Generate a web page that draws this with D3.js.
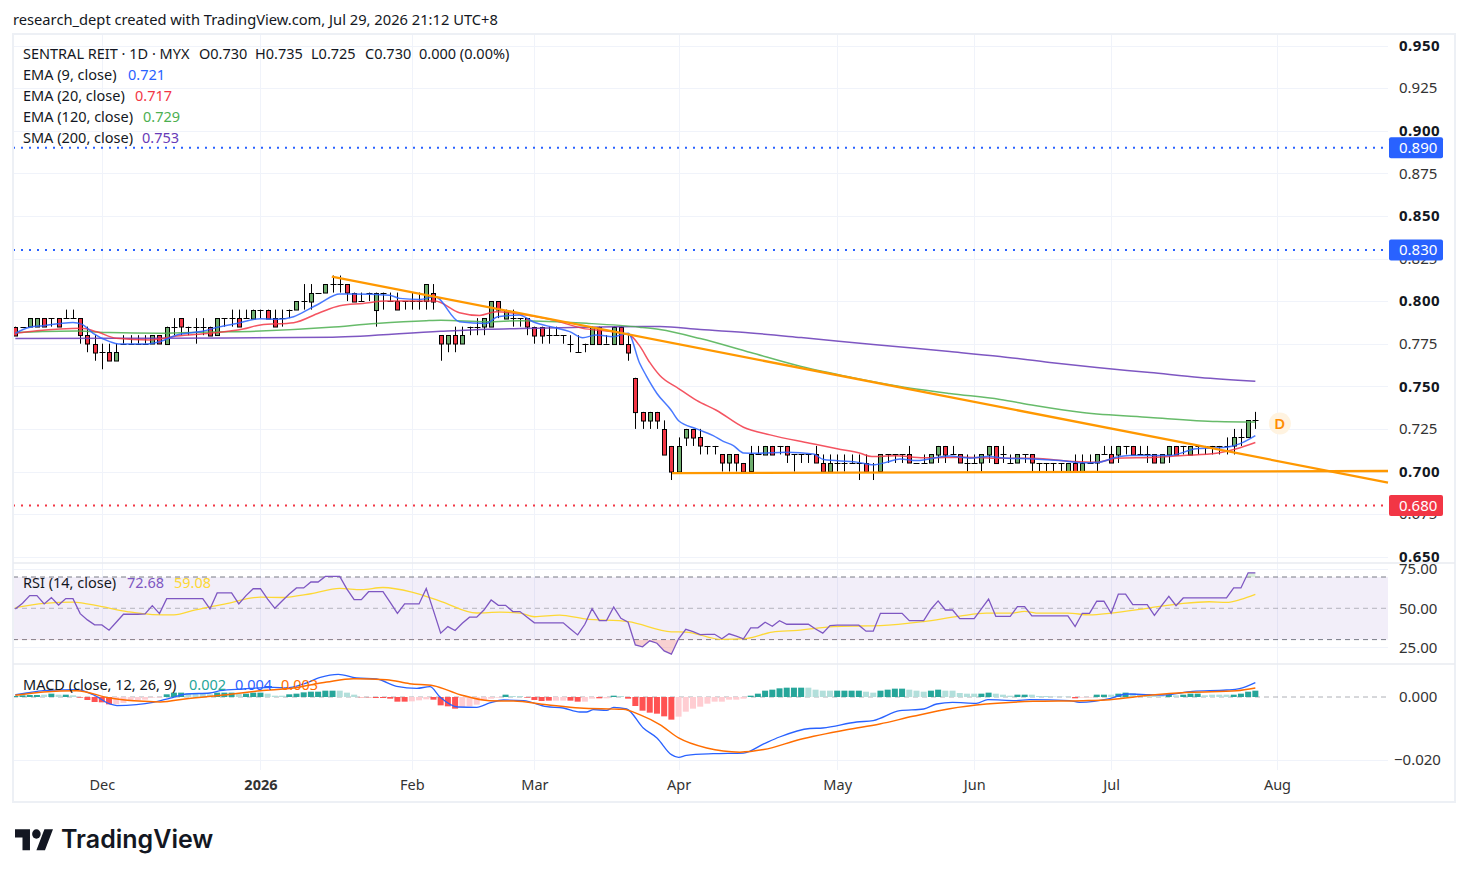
<!DOCTYPE html>
<html>
<head>
<meta charset="utf-8">
<script src="https://cdn.jsdelivr.net/npm/d3@7"></script>
<style>
  html, body { margin: 0; background: #fff; }
  svg { display: block; }
  text { font-family: "Noto Sans", sans-serif; }
</style>
</head>
<body>
<svg id="chart"></svg>
<script>
// candles, one per trading day
const opens = [
  .785,.785,.785,.785,.79,.79,.79,.79,.79,.79,
  .78,.775,.77,.77,.765,.775,.775,.775,.775,.775,
  .78,.775,.785,.79,.785,.785,.785,.785,.78,.79,
  .79,.79,.79,.79,.795,.795,.79,.79,.795,.795,
  .80,.80,.805,.805,.81,.81,.81,.805,.80,.805,
  .795,.805,.80,.80,.80,.80,.80,.80,.805,.78,
  .775,.78,.775,.785,.785,.785,.785,.80,.79,.79,
  .79,.79,.785,.785,.78,.78,.78,.775,.77,.775,
  .775,.785,.775,.775,.785,.775,.755,.735,.73,.735,
  .725,.715,.70,.72,.725,.72,.715,.715,.71,.705,
  .71,.705,.70,.71,.71,.715,.715,.715,.71,.71,
  .71,.71,.705,.70,.705,.705,.705,.705,.705,.70,
  .70,.71,.71,.71,.71,.705,.705,.705,.71,.715,
  .71,.71,.705,.705,.705,.71,.715,.71,.705,.705,
  .71,.71,.705,.705,.705,.705,.70,.705,.70,.705,
  .705,.71,.71,.71,.715,.715,.71,.71,.71,.705,
  .71,.715,.715,.71,.715,.715,.715,.715,.715,.715,
  .72,.72,.73];
const highs = [
  .785,.785,.79,.79,.79,.79,.79,.795,.795,.79,
  .785,.78,.775,.775,.775,.78,.78,.78,.78,.78,
  .78,.785,.79,.79,.785,.79,.79,.785,.79,.79,
  .795,.795,.795,.795,.795,.795,.795,.795,.795,.80,
  .81,.81,.805,.81,.815,.815,.81,.805,.805,.805,
  .805,.805,.805,.805,.80,.805,.805,.81,.81,.78,
  .78,.785,.785,.785,.79,.79,.80,.80,.795,.795,
  .79,.79,.785,.785,.785,.785,.78,.78,.78,.775,
  .785,.785,.78,.785,.785,.78,.755,.735,.735,.735,
  .73,.715,.72,.725,.725,.725,.715,.715,.71,.71,
  .71,.705,.715,.715,.715,.715,.715,.715,.71,.71,
  .71,.715,.71,.71,.71,.71,.71,.71,.71,.705,
  .71,.71,.71,.71,.715,.705,.71,.71,.715,.715,
  .715,.71,.71,.71,.71,.715,.715,.715,.71,.71,
  .71,.71,.705,.705,.705,.705,.705,.71,.71,.71,
  .71,.715,.715,.715,.715,.715,.715,.715,.71,.71,
  .715,.715,.715,.715,.715,.715,.715,.715,.72,.725,
  .725,.73,.735];
const lows = [
  .78,.785,.785,.785,.785,.785,.785,.79,.79,.775,
  .77,.765,.76,.765,.765,.775,.775,.775,.775,.775,
  .775,.775,.78,.78,.78,.775,.78,.78,.78,.785,
  .785,.785,.79,.79,.79,.79,.785,.785,.79,.795,
  .795,.795,.805,.805,.805,.805,.80,.80,.80,.80,
  .785,.795,.80,.795,.795,.795,.795,.795,.795,.765,
  .77,.77,.775,.78,.78,.78,.785,.79,.79,.785,
  .785,.78,.775,.775,.775,.78,.775,.77,.77,.77,
  .775,.775,.775,.775,.775,.765,.725,.725,.725,.725,
  .71,.695,.70,.715,.715,.71,.71,.71,.70,.70,
  .70,.70,.70,.71,.71,.71,.71,.705,.70,.705,
  .705,.705,.70,.70,.70,.70,.705,.695,.70,.695,
  .70,.705,.705,.705,.705,.705,.705,.705,.705,.705,
  .71,.705,.70,.705,.70,.705,.705,.705,.705,.705,
  .705,.70,.70,.70,.70,.70,.70,.70,.70,.705,
  .70,.71,.705,.705,.71,.71,.71,.705,.705,.705,
  .705,.71,.71,.71,.71,.71,.71,.71,.71,.71,
  .715,.72,.725];
const closes = [
  .78,.785,.79,.79,.785,.79,.785,.79,.79,.78,
  .775,.77,.77,.765,.77,.775,.775,.775,.775,.78,
  .775,.785,.785,.785,.785,.785,.785,.78,.79,.79,
  .79,.785,.79,.795,.795,.79,.785,.79,.795,.80,
  .80,.805,.805,.81,.81,.81,.805,.80,.80,.805,
  .805,.805,.80,.795,.80,.80,.80,.81,.80,.775,
  .78,.775,.78,.785,.785,.79,.80,.795,.795,.79,
  .79,.785,.78,.78,.78,.78,.78,.775,.77,.775,
  .785,.775,.775,.785,.775,.77,.735,.73,.735,.73,
  .71,.70,.715,.725,.72,.715,.715,.715,.705,.71,
  .705,.70,.71,.71,.715,.71,.715,.71,.71,.71,
  .71,.705,.70,.705,.705,.705,.705,.705,.70,.70,
  .71,.71,.71,.71,.705,.705,.705,.71,.715,.71,
  .71,.705,.705,.705,.71,.715,.705,.71,.705,.71,
  .71,.705,.705,.705,.705,.705,.705,.70,.705,.705,
  .71,.71,.705,.715,.715,.71,.71,.71,.705,.71,
  .715,.71,.715,.715,.715,.715,.715,.715,.715,.72,
  .72,.73,.73];

const ema9Bars = [0,2,3.9,6.2,8,9.2,10.8,13.1,14.3,18,20,22.4,26.1,28,30.7,34,36.3,38.6,40.9,42.2,45,46.8,51.9,53.3,56.1,58.2,61.6,65.3,66.9,69.9,71.8,74.6,76.9,78.7,80.6,82.9,85,86.6,87.5,89,91,92,94.5,96.8,98.2,99.6,101,102.8,107,110.7,112.1,116.7,119,120.9,122.7,125,129.6,132.4,134.9,137.5,141.2,144.9,148.1,150.4,152.7,154.6,160.1,163.8,168,169.8,172];
const ema9 = [.7811,.7846,.7856,.7869,.7875,.7865,.7811,.7762,.7748,.7748,.7762,.7801,.7824,.7846,.7869,.7897,.7893,.7908,.7957,.7986,.8041,.8041,.8035,.8016,.801,.8025,.7879,.7869,.7908,.7918,.7879,.7846,.7821,.7785,.7801,.7791,.7811,.7635,.7563,.7458,.7358,.7298,.725,.7211,.7177,.7152,.7109,.7107,.7113,.7103,.707,.7055,.7039,.7055,.7074,.7064,.7091,.7078,.7088,.7078,.7074,.7064,.7051,.7055,.7084,.7094,.7094,.7133,.7142,.7162,.7211];
const ema20Bars = [0,3,6.2,9.2,11.3,14,18.7,22.4,27,31.6,34,38.6,42.2,45,48.2,51.4,56.1,58.2,61.6,64.4,66.7,70.9,74.6,78.7,82,85.2,86.6,88,89.4,92,94.5,97.3,101,104.7,110.2,114,117.2,118.8,122,126,131.9,136.5,141.2,146.7,150,152.7,158.3,162,166.6,169.4,172];
const ema20 = [.7811,.7826,.7836,.784,.782,.7782,.7772,.7795,.7811,.7836,.786,.7873,.7932,.7973,.7986,.80,.80,.80,.7932,.7916,.7938,.7918,.7889,.784,.7824,.7801,.7737,.764,.7563,.7487,.7417,.7358,.726,.7215,.7166,.7133,.7107,.7088,.7092,.708,.7084,.7078,.7078,.7059,.7055,.7078,.7084,.7094,.7107,.7133,.717];
const ema120Bars = [0,3.8,8.6,13,20,27,34,43.6,50,57,59,65.5,70,79.5,86.6,89.4,95,102,109,116,122.7,129.6,136.6,141.4,148,157.4,166.7,172];
const ema120 = [.7815,.7822,.7824,.7815,.7811,.7818,.7824,.7846,.7869,.7885,.7887,.7879,.7885,.7869,.7847,.7833,.778,.7698,.7616,.7552,.7499,.7458,.7423,.7387,.7346,.7317,.7293,.729];
const sma200Bars = [0,20,44,59,65.5,75,87,89.4,95,102,109,119,129.6,136.6,143.5,150,157.4,164.3,172];
const sma200 = [.778,.7782,.7788,.7823,.7835,.7843,.7851,.7851,.7833,.7813,.7786,.7745,.7704,.7675,.764,.761,.7581,.7552,.753];

// drawn on the chart: falling trendline, base line, alert levels
const trendBars = [43.9, 190.4];
const trendPrices = [.8144, .6935];
const baseBars = [91.1, 190.4];
const basePrices = [.699, .7003];
const levels = [.89, .83, .68];
const levelColors = ['#2962ff', '#2962ff', '#f23645'];

// RSI pane
const rsi = [
  49.6,53.2,58.1,58.1,52.8,56.8,52.1,56.2,56.2,46.6,
  42.6,39.4,39.4,36.0,41.1,46.2,46.2,46.2,46.4,51.7,
  46.6,56.2,56.2,56.2,56.2,56.2,56.2,49.6,59.8,59.8,
  59.8,52.8,58.1,62.5,62.5,55.9,50.0,54.7,59.1,63.0,
  63.0,66.8,66.8,70.4,70.4,70.4,62.3,55.5,55.5,60.6,
  60.6,60.6,53.8,46.8,52.8,52.8,52.8,62.7,48.5,34.1,
  38.3,35.8,40.4,44.3,44.3,48.9,55.3,51.9,51.9,47.9,
  47.9,44.3,40.7,40.7,40.7,40.7,40.7,36.8,33.0,39.8,
  49.8,42.1,42.1,50.8,43.6,41.1,26.6,25.4,29.2,27.7,
  22.8,20.7,30.5,36.6,35.1,33.2,33.4,33.4,30.5,33.7,
  32.2,30.5,37.5,37.5,41.1,38.5,42.1,39.8,39.8,39.8,
  39.8,36.8,34.1,39.0,39.2,39.2,39.2,39.2,35.4,35.4,
  46.8,46.8,46.8,46.8,42.1,42.1,42.1,49.4,54.7,48.9,
  48.9,43.4,43.4,43.4,49.6,55.9,44.9,44.9,44.9,51.1,
  51.1,45.1,45.1,45.1,45.1,45.1,45.1,38.3,46.8,46.8,
  54.5,54.5,46.8,59.1,59.1,52.3,52.3,52.3,45.5,51.7,
  57.6,51.7,56.6,56.6,56.6,56.6,56.6,56.6,56.6,63.0,
  63.0,72.7,72.7];
const rsiMaBars = [0,4,8,12,15.5,19,22,25,29,34,37,41,45,48,51,55,59,64,67.2,70,72,75.5,79,85,91,93,98,101.5,105,108.5,113.5,117,120,126,131,134.7,138,140,142,146,149,152,157,162,165.6,168,170,172];
const rsiMa = [50.4,53.2,54,51,47.9,46,45.8,49,52.7,57.1,56.9,59.3,62.7,61.9,63.3,60.4,54.5,47,47.5,46.9,44.6,45.6,43.2,41.5,35,34.8,30.1,30.8,34.8,35.9,38.3,38.7,38.9,41.5,45,46.9,46.9,48,46.9,46.9,45.8,46.9,50,53.2,54.2,53.8,55.7,58.9];

// MACD pane, values in thousandths
const macdHist = [
  .32,.53,.63,.63,.74,1.06,.74,.74,.53,-.21,
  -.95,-1.59,-1.69,-2.33,-2.33,-1.9,-1.38,-1.06,-.85,-.21,
  -.21,.85,1.38,1.38,1.27,1.27,1.16,.85,1.38,1.38,
  1.38,.95,1.06,1.38,1.38,1.06,.42,.42,.85,1.06,
  1.48,1.69,1.69,2.01,2.01,2.01,1.38,.74,-.11,-.11,
  -.32,-.32,-.53,-1.48,-1.48,-1.38,-1.06,-.74,-.85,-2.65,
  -2.96,-3.7,-3.17,-2.96,-2.43,-1.06,-.53,-.21,.74,.32,
  .32,-.21,-.95,-1.27,-1.16,-1.16,-1.16,-1.16,-1.48,-1.48,
  -.53,-.42,-.42,.42,.32,-.53,-2.86,-4.34,-4.97,-5.29,
  -6.14,-7.19,-6.24,-4.66,-3.7,-3.07,-2.12,-1.48,-1.48,-.85,
  -.85,-.53,.42,1.06,2.01,2.33,2.75,2.96,2.96,2.96,
  2.96,2.33,2.01,2.01,2.01,2.01,2.01,2.01,1.69,1.38,
  2.01,2.33,2.65,2.65,2.33,2.01,1.69,2.01,2.33,2.01,
  2.01,1.27,1.06,1.06,1.06,1.38,1.06,.74,.42,.74,
  .74,.74,.32,.32,.11,.11,.11,-.42,-.21,-.21,
  .74,.74,.74,1.06,1.38,1.27,.85,.53,.32,.21,
  .74,.53,.74,1.06,1.06,.53,.74,.74,.74,.74,
  1.06,1.69,2.01];
// bars where the histogram is drawn in its pale shade
const histPale = [4,6,8,14,15,16,17,18,19,20,24,25,26,27,31,35,36,37,45,46,47,55,56,57,62,63,64,65,66,67,69,70,75,76,79,80,82,84,92,93,94,95,96,97,98,99,100,101,110,111,112,113,118,119,124,125,126,129,130,131,132,133,136,137,138,141,142,143,144,145,146,148,149,152,155,156,157,158,159,161,165,166,167,168];
const macdBars = [0,1.6,3.9,8.5,10.8,13.1,14.1,16.8,19.1,21.5,23.8,27,28.4,31.6,35.8,37.6,40,42.3,44.8,47.3,50.1,52.9,55.7,57.5,58.9,61.4,64,65.8,67.7,70.5,73.7,76,78.3,79.2,80.2,82,83,84.8,87.1,89,91,92,93.1,96.8,101,103.8,106,110.2,112,116.7,119,122.7,126,127.8,130,133.3,134.9,138.8,140.7,146.2,147.6,151.8,154.1,157.3,159.2,163.3,168,169.8,172];
const macdLine = [.74,1.27,2,2.33,.74,-2.2,-2.75,-2.43,-1.69,-.32,.95,1.27,2,2.54,3.07,2.86,4.13,6.24,7.19,6.03,5.71,3.39,2.75,3.28,0,-3.17,-3.28,-1.9,-.95,-1.16,-3.07,-3.49,-4.76,-4.76,-4.02,-4.23,-3.28,-3.81,-9.84,-13,-18.3,-19.15,-18.5,-18,-17.8,-14.9,-12.7,-10,-9.84,-7.94,-7.5,-4.34,-3.81,-2.22,-1.69,-2,-.85,-1.16,-.85,-1.16,-1.69,-.53,.95,.74,.63,1.8,2.22,2.65,4.55];
const signalBars = [0,3.9,8.5,13.1,17.8,20.1,23.8,29.3,34,38.6,43.2,46.9,51.5,54.7,58,61.7,65.8,69.1,73.7,78.3,84.3,86.6,89.4,92,95.9,100.5,103.8,108.8,115.3,119.9,124.5,129.6,134.7,141.2,148.1,151.8,157.3,162.9,169.4,172];
const signalLine = [.53,1.59,2,-.32,-1.38,-1.59,-.53,.74,2,2.86,4.76,5.82,5.5,4.23,3.6,.74,-1.2,-1.27,-2.43,-3.49,-3.91,-5.6,-8.78,-13,-16.2,-17.5,-16.7,-13.5,-10.4,-8.57,-6.14,-3.7,-2.22,-1.38,-1.16,-.85,.53,1.48,2,2.86];

// axis labels
const priceTicks = [.95,.925,.9,.875,.85,.825,.8,.775,.75,.725,.7,.675,.65];
const rsiTicks = [75, 50, 25];
const macdTicks = [0, -20];
const monthBars = [12, 34, 55, 72, 92, 114, 133, 152, 175];
const monthLabels = ['Dec', '2026', 'Feb', 'Mar', 'Apr', 'May', 'Jun', 'Jul', 'Aug'];

// drawing constants
const WIDTH = 1468;
const HEIGHT = 877;
const LEFT = 13;
const PLOT_RIGHT = 1388;
const RIGHT = 1455;
const TOP = 34;
const MAIN_BOTTOM = 563;
const RSI_BOTTOM = 664;
const PANES_BOTTOM = 770;
const BOTTOM = 802;
const LABEL_X = 1399;
const AXIS_FONT = 15;
const LEGEND_FONT = 14.5;

const svg = d3.select('#chart').attr('width', WIDTH).attr('height', HEIGHT);

const x = d3.scaleLinear().domain([-0.32, 190.4]).range([LEFT, PLOT_RIGHT]);
const yPrice = d3.scaleLinear().domain([.7, .95]).range([471.5, 45.5]);
const yRsi = d3.scaleLinear().domain([50, 70]).range([608.3, 577]);
const yMacd = d3.scaleLinear().domain([0, -20]).range([697, 760]);

const bars = d3.range(closes.length);

// grid
const grid = svg.append('g').attr('stroke', '#f0f3fa').attr('stroke-width', 1);
function hLine(g, y) {
  g.append('line').attr('x1', LEFT).attr('x2', PLOT_RIGHT).attr('y1', y).attr('y2', y);
}
priceTicks.forEach(t => hLine(grid, Math.round(yPrice(t)) + .5));
rsiTicks.filter(t => t !== 50).forEach(t => hLine(grid, Math.round(yRsi(t)) + .5));
hLine(grid, Math.round(yMacd(-20)) + .5);
monthBars.forEach(m => {
  const px = Math.round(x(m)) + .5;
  grid.append('line').attr('x1', px).attr('x2', px).attr('y1', TOP).attr('y2', PANES_BOTTOM);
});

// candles
const candles = svg.append('g');
candles.selectAll('line.wick').data(bars).join('line')
  .attr('class', 'wick')
  .attr('x1', i => Math.round(x(i)) + .5)
  .attr('x2', i => Math.round(x(i)) + .5)
  .attr('y1', i => yPrice(highs[i]))
  .attr('y2', i => yPrice(lows[i]))
  .attr('stroke', '#000')
  .attr('stroke-width', 1);
candles.selectAll('line.doji').data(bars.filter(i => opens[i] === closes[i])).join('line')
  .attr('class', 'doji')
  .attr('x1', i => Math.round(x(i)) - 2.5)
  .attr('x2', i => Math.round(x(i)) + 3.5)
  .attr('y1', i => Math.round(yPrice(closes[i])) + .5)
  .attr('y2', i => Math.round(yPrice(closes[i])) + .5)
  .attr('stroke', '#000');
candles.selectAll('rect').data(bars.filter(i => opens[i] !== closes[i])).join('rect')
  .attr('x', i => Math.round(x(i)) - 1.5)
  .attr('width', 4)
  .attr('y', i => Math.round(yPrice(Math.max(opens[i], closes[i]))) + .5)
  .attr('height', i => Math.abs(yPrice(opens[i]) - yPrice(closes[i])))
  .attr('fill', i => closes[i] > opens[i] ? '#6fae6f' : '#f23645')
  .attr('stroke', '#000');

// moving averages
const smooth = d3.line().x(d => x(d[0])).y(d => yPrice(d[1])).curve(d3.curveMonotoneX);
function maLine(barList, values, color) {
  svg.append('path')
    .attr('d', smooth(d3.zip(barList, values)))
    .attr('fill', 'none')
    .attr('stroke', color)
    .attr('stroke-opacity', .85)
    .attr('stroke-width', 1.5);
}
maLine(sma200Bars, sma200, '#673ab7');
maLine(ema120Bars, ema120, '#4caf50');
maLine(ema20Bars, ema20, '#f23645');
maLine(ema9Bars, ema9, '#2962ff');

// trendlines
[[trendBars, trendPrices], [baseBars, basePrices]].forEach(([b, p]) => {
  svg.append('line')
    .attr('x1', x(b[0])).attr('x2', x(b[1]))
    .attr('y1', yPrice(p[0])).attr('y2', yPrice(p[1]))
    .attr('stroke', '#ff9800')
    .attr('stroke-width', 2.3);
});

// alert levels
levels.forEach((lv, k) => {
  svg.append('line')
    .attr('x1', LEFT).attr('x2', PLOT_RIGHT)
    .attr('y1', yPrice(lv)).attr('y2', yPrice(lv))
    .attr('stroke', levelColors[k])
    .attr('stroke-width', 2)
    .attr('stroke-dasharray', '2 6');
});

// RSI pane
svg.append('rect')
  .attr('x', LEFT).attr('width', PLOT_RIGHT - LEFT)
  .attr('y', yRsi(70)).attr('height', yRsi(30) - yRsi(70))
  .attr('fill', '#7e57c2').attr('fill-opacity', .1);
[[70, 1], [50, .5], [30, 1]].forEach(([lv, op]) => {
  svg.append('line')
    .attr('x1', LEFT).attr('x2', PLOT_RIGHT)
    .attr('y1', yRsi(lv)).attr('y2', yRsi(lv))
    .attr('stroke', '#787b86').attr('stroke-opacity', op)
    .attr('stroke-dasharray', '5 4');
});
const defs = svg.append('defs');
defs.append('clipPath').attr('id', 'below30').append('rect')
  .attr('x', LEFT).attr('width', PLOT_RIGHT - LEFT)
  .attr('y', yRsi(30)).attr('height', 30);
defs.append('clipPath').attr('id', 'above70').append('rect')
  .attr('x', LEFT).attr('width', PLOT_RIGHT - LEFT)
  .attr('y', yRsi(70) - 20).attr('height', 20);
const rsiAreaLow = d3.area().x(i => x(i)).y0(yRsi(30)).y1(i => yRsi(rsi[i]));
const rsiAreaHigh = d3.area().x(i => x(i)).y0(yRsi(70)).y1(i => yRsi(rsi[i]));
svg.append('path').attr('d', rsiAreaLow(bars)).attr('clip-path', 'url(#below30)')
  .attr('fill', '#ef9a9a').attr('fill-opacity', .45);
svg.append('path').attr('d', rsiAreaHigh(bars)).attr('clip-path', 'url(#above70)')
  .attr('fill', '#a5d6a7').attr('fill-opacity', .4);
svg.append('path')
  .attr('d', d3.line().x(d => x(d[0])).y(d => yRsi(d[1])).curve(d3.curveMonotoneX)(d3.zip(rsiMaBars, rsiMa)))
  .attr('fill', 'none').attr('stroke', '#fdd835').attr('stroke-width', 1.3);
svg.append('path')
  .attr('d', d3.line().x(i => x(i)).y(i => yRsi(rsi[i]))(bars))
  .attr('fill', 'none').attr('stroke', '#7e57c2').attr('stroke-width', 1.3);

// MACD pane
svg.append('line')
  .attr('x1', LEFT).attr('x2', PLOT_RIGHT)
  .attr('y1', yMacd(0)).attr('y2', yMacd(0))
  .attr('stroke', '#787b86').attr('stroke-opacity', .6)
  .attr('stroke-dasharray', '5 4');
function histColor(i) {
  const pale = histPale.includes(i);
  if (macdHist[i] >= 0) return pale ? '#b2dfdb' : '#26a69a';
  return pale ? '#ffcdd2' : '#ff5252';
}
svg.append('g').selectAll('rect').data(bars).join('rect')
  .attr('x', i => x(i) - 3)
  .attr('width', 6)
  .attr('y', i => Math.min(yMacd(0), yMacd(macdHist[i])))
  .attr('height', i => Math.abs(yMacd(macdHist[i]) - yMacd(0)))
  .attr('fill', histColor);
const macdPath = d3.line().x(d => x(d[0])).y(d => yMacd(d[1])).curve(d3.curveMonotoneX);
svg.append('path').attr('d', macdPath(d3.zip(macdBars, macdLine)))
  .attr('fill', 'none').attr('stroke', '#2962ff').attr('stroke-width', 1.3);
svg.append('path').attr('d', macdPath(d3.zip(signalBars, signalLine)))
  .attr('fill', 'none').attr('stroke', '#ff6d00').attr('stroke-width', 1.5);

// pane separators and outer frame
svg.append('rect')
  .attr('x', LEFT).attr('y', TOP)
  .attr('width', RIGHT - LEFT).attr('height', BOTTOM - TOP)
  .attr('fill', 'none').attr('stroke', '#edf0f5').attr('stroke-width', 2);
[MAIN_BOTTOM, RSI_BOTTOM].forEach(y => {
  svg.append('line').attr('x1', LEFT).attr('x2', RIGHT).attr('y1', y).attr('y2', y)
    .attr('stroke', '#e8ebf0').attr('stroke-width', 1.5);
});

// right hand axes
function styleAxis(g, bold) {
  g.select('.domain').remove();
  g.selectAll('.tick line').remove();
  g.selectAll('text')
    .attr('x', t => t < 0 ? -5 : 0)
    .attr('text-anchor', 'start')
    .attr('font-size', AXIS_FONT)
    .attr('fill', '#333')
    .attr('font-weight', bold);
}
svg.append('g').attr('transform', `translate(${LABEL_X},0)`)
  .call(d3.axisRight(yPrice).tickValues(priceTicks).tickFormat(d3.format('.3f')))
  .call(g => styleAxis(g, t => Math.round(t * 1000) % 50 === 0 ? 700 : 400))
  .call(g => g.selectAll('text')
    .attr('letter-spacing', t => Math.round(t * 1000) % 50 === 0 ? .5 : 0)
    .attr('fill', t => Math.round(t * 1000) % 50 === 0 ? '#131722' : '#333'));
svg.append('g').attr('transform', `translate(${LABEL_X},0)`)
  .call(d3.axisRight(yRsi).tickValues(rsiTicks).tickFormat(d3.format('.2f')))
  .call(g => styleAxis(g, 400));
svg.append('g').attr('transform', `translate(${LABEL_X},0)`)
  .call(d3.axisRight(yMacd).tickValues(macdTicks).tickFormat(t => (t < 0 ? '\u2212' : '') + d3.format('.3f')(Math.abs(t) / 1000)))
  .call(g => styleAxis(g, 400));

// level tags sit on top of the price labels
levels.forEach((lv, k) => {
  svg.append('rect')
    .attr('x', PLOT_RIGHT + 1).attr('width', 54)
    .attr('y', yPrice(lv) - 10.5).attr('height', 21)
    .attr('rx', 2)
    .attr('fill', levelColors[k]);
  svg.append('text')
    .attr('x', LABEL_X).attr('y', yPrice(lv) + 5.5)
    .attr('font-size', AXIS_FONT)
    .attr('fill', '#fff')
    .text(d3.format('.3f')(lv));
});

// time axis
svg.append('g').attr('transform', `translate(0,${PANES_BOTTOM})`)
  .call(d3.axisBottom(x).tickValues(monthBars).tickFormat((d, k) => monthLabels[k]))
  .call(g => {
    g.select('.domain').remove();
    g.selectAll('.tick line').remove();
    g.selectAll('text')
      .attr('y', 20)
      .attr('dy', 0)
      .attr('font-size', LEGEND_FONT)
      .attr('fill', '#333')
      .attr('font-weight', (d, k) => monthLabels[k] === '2026' ? 700 : 400);
  });

// dividend badge
const badgeX = x(175.4);
const badgeY = yPrice(.7282);
svg.append('circle').attr('cx', badgeX).attr('cy', badgeY).attr('r', 11).attr('fill', '#fff3e0');
svg.append('text').attr('x', badgeX).attr('y', badgeY + 5.5)
  .attr('text-anchor', 'middle').attr('font-size', 15).attr('font-weight', 600).attr('fill', '#ff8c00').text('D');

// text helper
function label(px, py, str, color, size) {
  svg.append('text')
    .attr('x', px).attr('y', py)
    .attr('font-size', size || LEGEND_FONT)
    .attr('fill', color || '#131722')
    .text(str);
}
label(13, 25, 'research_dept created with TradingView.com, Jul 29, 2026 21:12 UTC+8', '#131722', 14.7);
label(23, 59, 'SENTRAL REIT \u00b7 1D \u00b7 MYX');
label(199, 59, 'O0.730');
label(255, 59, 'H0.735');
label(311, 59, 'L0.725');
label(365, 59, 'C0.730');
label(419, 59, '0.000 (0.00%)');
label(23, 80, 'EMA (9, close)');
label(128, 80, '0.721', '#2962ff');
label(23, 101, 'EMA (20, close)');
label(135, 101, '0.717', '#f23645');
label(23, 122, 'EMA (120, close)');
label(143, 122, '0.729', '#4caf50');
label(23, 143, 'SMA (200, close)');
label(142, 143, '0.753', '#673ab7');
label(23, 588, 'RSI (14, close)');
label(127, 588, '72.68', '#7e57c2');
label(174, 588, '59.08', '#fdd835');
label(23, 690, 'MACD (close, 12, 26, 9)');
label(189, 690, '0.002', '#26a69a');
label(235, 690, '0.004', '#2962ff');
label(281, 690, '0.003', '#ff6d00');

// logo
const logo = svg.append('g').attr('transform', 'translate(15,824.6) scale(1.07,1.17)').attr('fill', '#131722');
logo.append('path').attr('d', 'M14 22H7V11H0V4h14v18zM28 22h-8l7.5-18h8L28 22z');
logo.append('circle').attr('cx', 20).attr('cy', 8).attr('r', 4);
svg.append('text')
  .attr('x', 61).attr('y', 848)
  .style('font-family', 'Inter, sans-serif')
  .attr('font-size', 25)
  .attr('font-weight', 600)
  .attr('fill', '#131722')
  .text('TradingView');
</script>
</body>
</html>
